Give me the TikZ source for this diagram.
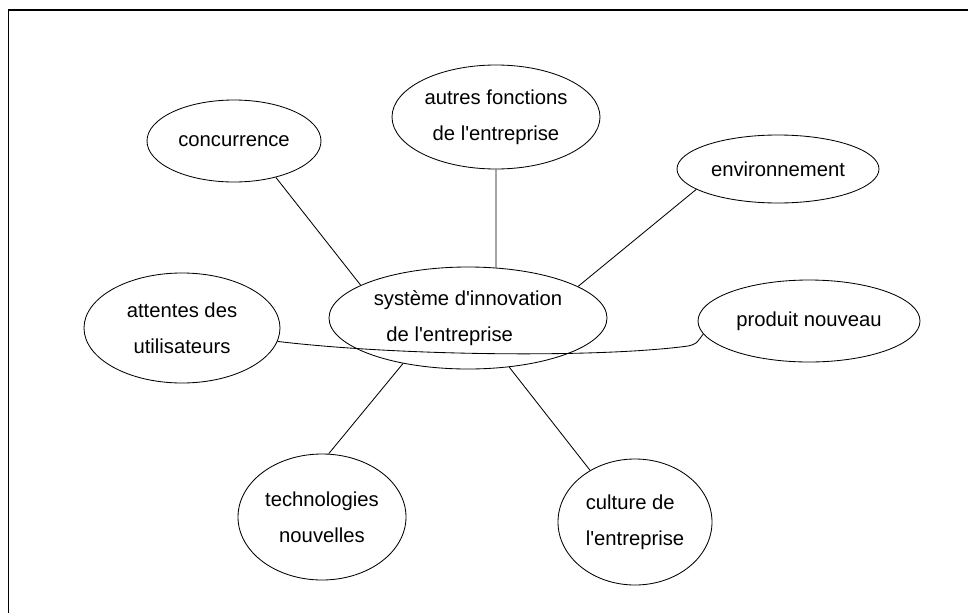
\documentclass[tikz,border=0pt]{standalone}
\usepackage{fontspec}
\setmainfont{Liberation Sans}[Ligatures=TeXOff]
\usetikzlibrary{shapes.geometric}

\begin{document}
\begin{tikzpicture}[x=0.025cm, y=-0.025cm,
        bulle/.style 2 args={ellipse, draw, line width=0.6pt, inner sep=0pt,
            minimum width=#1*0.025cm, minimum height=#2*0.025cm},
        lien/.style={line width=0.6pt},
        font=\fontsize{14.4}{25.6}\selectfont]
        \useasboundingbox (0,0) rectangle (968,613);
        \draw[line width=0.9pt] (968,10) -- (8.5,10) -- (8.5,613);

        \node[bulle={278}{102}, align=left] (sys) at (468,318) {système d'innovation\\\hspace*{9pt}de l'entreprise};
        \node[bulle={174}{82}] (conc) at (234,141) {concurrence};
        \node[bulle={208}{104}, align=center] (autres) at (496,117) {autres fonctions\\de l'entreprise};
        \node[bulle={202}{68}] (env) at (778,169) {environnement};
        \node[bulle={196}{110}, align=center] (att) at (182,328) {attentes des\\utilisateurs};
        \node[bulle={222}{82}] (prod) at (809,321) {produit nouveau};
        \node[bulle={168}{126}, align=center] (tech) at (322,517) {technologies\\nouvelles};
        \node[bulle={154}{126}, align=left] (cult) at (635,522) {culture de\\l'entreprise};

        \draw[lien] (conc.-41) -- (sys.163);
        \draw[lien] (autres.south) -- (sys.61);
        \draw[lien] (env.194) -- (sys.16);
        \draw[lien] (sys.215) -- (tech.84);
        \draw[lien] (sys.-50) -- (cult.131);
        \draw[lien] (att.-8) .. controls (400,356) and (600,358) .. (688,346) .. controls (696,344) .. (prod.187);
      \end{tikzpicture}
\end{document}
